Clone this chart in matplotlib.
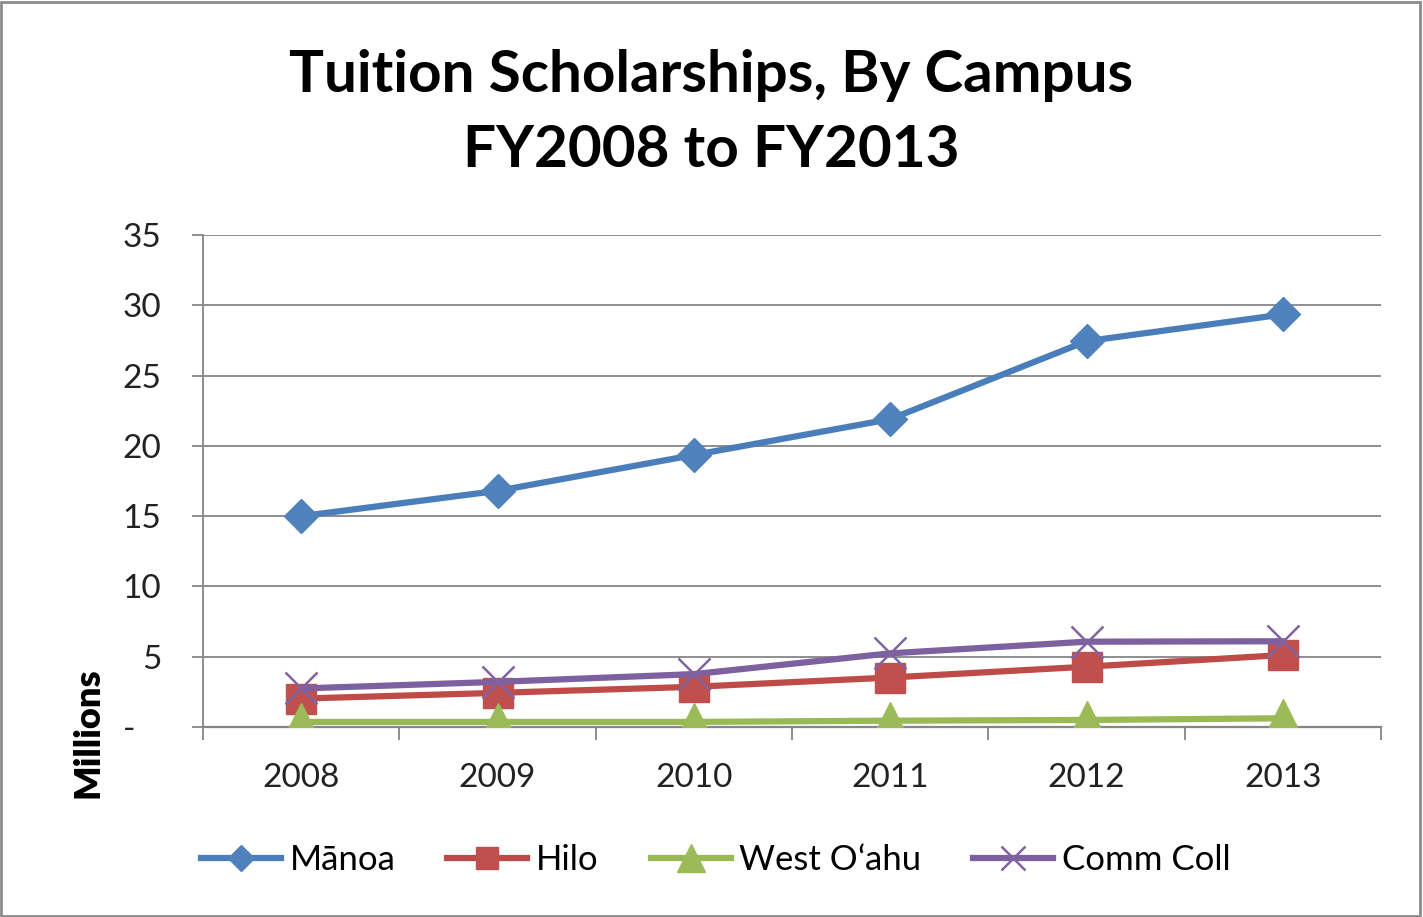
import numpy as np
import matplotlib
matplotlib.use('Agg')
import matplotlib.pyplot as plt
from matplotlib.patches import Rectangle

# data (millions of dollars)
years = ['2008', '2009', '2010', '2011', '2012', '2013']
manoa = [15.0, 16.8, 19.35, 21.9, 27.45, 29.35]
hilo = [2.02, 2.43, 2.86, 3.52, 4.29, 5.12]
west_oahu = [0.36, 0.36, 0.36, 0.45, 0.5, 0.62]
comm_coll = [2.74, 3.21, 3.76, 5.24, 6.07, 6.1]
series_names = ['M\u0101noa', 'Hilo', 'West O\u02bbahu', 'Comm Coll']
yticks = [0, 5, 10, 15, 20, 25, 30, 35]
ytick_labels = ['-   ', '5', '10', '15', '20', '25', '30', '35']

plt.rcParams['font.family'] = ['Lato', 'DejaVu Sans']

fig = plt.figure(figsize=(14.23, 9.17), dpi=100)
fig.patch.set_facecolor('white')
ax = fig.add_axes([0.1427, 0.2072, 0.8278, 0.5365])

x = np.arange(1, len(years) + 1)
ax.plot(x, manoa, color='#4A7EBB', lw=4.5, marker='D', ms=17,
        mfc='#4F81BD', mec='#4F81BD', label=series_names[0], zorder=3)
ax.plot(x, hilo, color='#BE4B48', lw=4.5, marker='s', ms=22,
        mfc='#C0504D', mec='#C0504D', label=series_names[1], zorder=3)
ax.plot(x, west_oahu, color='#98B954', lw=4.5, marker='^', ms=27,
        mfc='#9BBB59', mec='#9BBB59', label=series_names[2], zorder=3)
ax.plot(x, comm_coll, color='#7D60A0', lw=4.5, marker='x', ms=23, mew=1.8,
        mfc='#8064A2', mec='#8064A2', label=series_names[3], zorder=4)

ax.set_xlim(0.5, 6.5)
ax.set_ylim(0, 35)
ax.set_yticks(yticks)
ax.set_yticklabels(ytick_labels)
ax.set_xticks(x)
ax.set_xticklabels(years)
ax.set_xticks(np.arange(0.5, 7, 1), minor=True)

ax.grid(axis='y', color='#868686', lw=1.3)
ax.set_axisbelow(True)
for s in ['top', 'right']:
    ax.spines[s].set_visible(False)
ax.spines['left'].set_color('#868686')
ax.spines['left'].set_linewidth(1.3)
ax.spines['bottom'].set_color('#868686')
ax.spines['bottom'].set_linewidth(1.6)

ax.tick_params(axis='y', length=8, width=1.3, color='#868686', pad=22,
               labelsize=24, labelcolor='#222222')
ax.tick_params(axis='x', which='major', length=0, pad=26, labelsize=24,
               labelcolor='#222222')
ax.tick_params(axis='x', which='minor', length=9, width=1.3, color='#868686')

fig.text(0.5, 0.918, 'Tuition Scholarships, By Campus', ha='center', va='center',
         fontsize=42, fontweight='bold')
fig.text(0.5, 0.836, 'FY2008 to FY2013', ha='center', va='center',
         fontsize=42, fontweight='bold')
fig.text(88 / 1423, 1 - 733 / 917, 'Millions', rotation=90, ha='center', va='center',
         fontsize=26, fontweight='heavy')

fig.legend(loc='center', bbox_to_anchor=(0.503, 1 - 860 / 917), ncol=4, frameon=False,
           fontsize=25, handlelength=2.3, columnspacing=1.5, handletextpad=0.25,
           markerscale=0.75)

fig.add_artist(Rectangle((0.001, 0.001), 0.997, 0.997, transform=fig.transFigure,
                         fill=False, edgecolor='#8c8c8c', lw=2))

fig.savefig('out.png', dpi=100, facecolor='white')
